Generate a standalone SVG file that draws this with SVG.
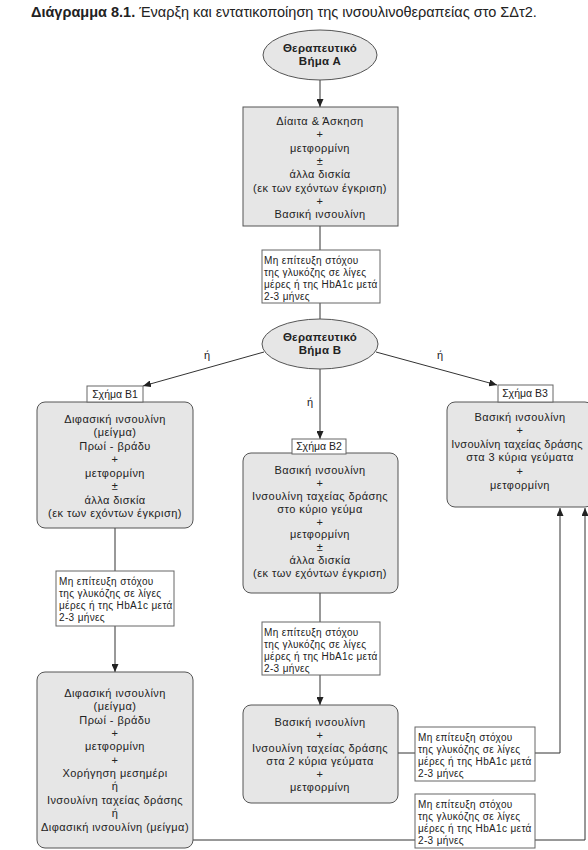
<svg xmlns="http://www.w3.org/2000/svg" width="588" height="850" viewBox="0 0 588 850">
<defs>
<marker id="ah" markerWidth="8" markerHeight="7" refX="8" refY="3.5" orient="auto" markerUnits="userSpaceOnUse">
<path d="M0,0 L8,3.5 L0,7 z" fill="#222"/>
</marker>
</defs>
<style>
text{font-family:"Liberation Sans",Arial,sans-serif;fill:#222}
.t{font-size:11px;letter-spacing:0.45px;text-anchor:middle}
.c{font-size:10px;letter-spacing:0.35px}
.e{font-size:11.5px;font-weight:bold;text-anchor:middle;letter-spacing:0.3px}
.l{font-size:10.5px;text-anchor:middle}
.g{fill:#e6e6e6;stroke:#555;stroke-width:1}
.w{fill:#fff;stroke:#666;stroke-width:1}
.ln{stroke:#333;stroke-width:1;fill:none}
.a{marker-end:url(#ah)}
</style>
<rect width="588" height="850" fill="#fff"/>
<text x="31" y="17" style="font-size:14.5px"><tspan font-weight="bold">Διάγραμμα 8.1.</tspan> Έναρξη και εντατικοποίηση της ινσουλινοθεραπείας στο ΣΔτ2.</text>

<g id="connectors">
<line class="ln a" x1="320" y1="80" x2="320" y2="107"/>
<line class="ln" x1="320" y1="226" x2="320" y2="250"/>
<line class="ln" x1="320" y1="303" x2="320" y2="319"/>
<line class="ln a" x1="264" y1="352" x2="143" y2="386"/>
<line class="ln a" x1="376" y1="352" x2="497" y2="385"/>
<line class="ln a" x1="320" y1="369" x2="320" y2="439"/>
<line class="ln" x1="115" y1="528" x2="115" y2="571"/>
<line class="ln a" x1="115" y1="626" x2="115" y2="672"/>
<line class="ln" x1="320" y1="593" x2="320" y2="622"/>
<line class="ln a" x1="320" y1="675" x2="320" y2="705"/>
<polyline class="ln a" points="398,753 560,753 560,508"/>
<polyline class="ln a" points="193,840 585,840 585,508"/>
<text x="207" y="359" class="l" style="font-size:11px">ή</text>
<text x="440" y="359" class="l" style="font-size:11px">ή</text>
<text x="310" y="406" class="l" style="font-size:11px">ή</text>
</g>

<g id="stepA">
<ellipse class="g" cx="320" cy="55" rx="57" ry="25"/>
<text class="e" x="320" y="52">Θεραπευτικό</text>
<text class="e" x="320" y="65">Βήμα Α</text>
</g>

<g id="boxA">
<rect class="g" x="243" y="107" width="155" height="119"/>
<text class="t" x="320" y="125">Δίαιτα &amp; Άσκηση</text>
<text class="t" x="320" y="138">+</text>
<text class="t" x="320" y="152">μετφορμίνη</text>
<text class="t" x="320" y="165">±</text>
<text class="t" x="320" y="178">άλλα δισκία</text>
<text class="t" x="320" y="192">(εκ των εχόντων έγκριση)</text>
<text class="t" x="320" y="205">+</text>
<text class="t" x="320" y="218">Βασική ινσουλίνη</text>
</g>

<g id="cond1">
<rect class="w" x="262" y="250" width="118" height="53"/>
<text class="c" x="264" y="264">Μη επίτευξη στόχου</text>
<text class="c" x="264" y="276">της γλυκόζης σε λίγες</text>
<text class="c" x="264" y="288">μέρες ή της HbA1c μετά</text>
<text class="c" x="264" y="300">2-3 μήνες</text>
</g>

<g id="stepB">
<ellipse class="g" cx="320" cy="344" rx="58" ry="25"/>
<text class="e" x="320" y="341">Θεραπευτικό</text>
<text class="e" x="320" y="354">Βήμα Β</text>
</g>

<g id="B1">
<rect class="g" x="37" y="402" width="156" height="126" rx="8"/>
<text class="t" x="115" y="423">Διφασική ινσουλίνη</text>
<text class="t" x="115" y="436">(μείγμα)</text>
<text class="t" x="115" y="450">Πρωί - βράδυ</text>
<text class="t" x="115" y="463">+</text>
<text class="t" x="115" y="477">μετφορμίνη</text>
<text class="t" x="115" y="490">±</text>
<text class="t" x="115" y="504">άλλα δισκία</text>
<text class="t" x="115" y="517">(εκ των εχόντων έγκριση)</text>
<rect class="w" x="87" y="386" width="56" height="16"/>
<text class="l" x="115" y="398">Σχήμα Β1</text>
</g>

<g id="B2">
<rect class="g" x="243" y="453" width="155" height="140" rx="8"/>
<text class="t" x="320" y="474">Βασική ινσουλίνη</text>
<text class="t" x="320" y="487">+</text>
<text class="t" x="320" y="500">Ινσουλίνη ταχείας δράσης</text>
<text class="t" x="320" y="513">στο κύριο γεύμα</text>
<text class="t" x="320" y="526">+</text>
<text class="t" x="320" y="538">μετφορμίνη</text>
<text class="t" x="320" y="551">±</text>
<text class="t" x="320" y="564">άλλα δισκία</text>
<text class="t" x="320" y="577">(εκ των εχόντων έγκριση)</text>
<rect class="w" x="292" y="439" width="54" height="15"/>
<text class="l" x="319" y="450">Σχήμα Β2</text>
</g>

<g id="B3">
<rect class="g" x="447" y="402" width="146" height="105" rx="8"/>
<text class="t" x="520" y="421">Βασική ινσουλίνη</text>
<text class="t" x="520" y="434">+</text>
<text class="t" x="517" y="448" style="letter-spacing:0.25px">Ινσουλίνη ταχείας δράσης</text>
<text class="t" x="520" y="461">στα 3 κύρια γεύματα</text>
<text class="t" x="520" y="475">+</text>
<text class="t" x="520" y="489">μετφορμίνη</text>
<rect class="w" x="498" y="385" width="55" height="17"/>
<text class="l" x="525" y="397">Σχήμα Β3</text>
</g>

<g id="condL">
<rect class="w" x="56" y="571" width="118" height="55"/>
<text class="c" x="59" y="585">Μη επίτευξη στόχου</text>
<text class="c" x="59" y="597">της γλυκόζης σε λίγες</text>
<text class="c" x="59" y="609">μέρες ή της HbA1c μετά</text>
<text class="c" x="59" y="621">2-3 μήνες</text>
</g>

<g id="cond2">
<rect class="w" x="262" y="622" width="118" height="53"/>
<text class="c" x="264" y="636">Μη επίτευξη στόχου</text>
<text class="c" x="264" y="648">της γλυκόζης σε λίγες</text>
<text class="c" x="264" y="660">μέρες ή της HbA1c μετά</text>
<text class="c" x="264" y="672">2-3 μήνες</text>
</g>

<g id="B2b">
<rect class="g" x="243" y="705" width="155" height="98" rx="8"/>
<text class="t" x="320" y="726">Βασική ινσουλίνη</text>
<text class="t" x="320" y="739">+</text>
<text class="t" x="320" y="752">Ινσουλίνη ταχείας δράσης</text>
<text class="t" x="320" y="765">στα 2 κύρια γεύματα</text>
<text class="t" x="320" y="778">+</text>
<text class="t" x="320" y="791">μετφορμίνη</text>
</g>

<g id="B1b">
<rect class="g" x="37" y="672" width="156" height="176" rx="8"/>
<text class="t" x="115" y="697">Διφασική ινσουλίνη</text>
<text class="t" x="115" y="710">(μείγμα)</text>
<text class="t" x="115" y="724">Πρωί - βράδυ</text>
<text class="t" x="115" y="737">+</text>
<text class="t" x="115" y="750">μετφορμίνη</text>
<text class="t" x="115" y="764">+</text>
<text class="t" x="115" y="777">Χορήγηση μεσημέρι</text>
<text class="t" x="115" y="790">ή</text>
<text class="t" x="115" y="804">Ινσουλίνη ταχείας δράσης</text>
<text class="t" x="115" y="817">ή</text>
<text class="t" x="115" y="831">Διφασική ινσουλίνη (μείγμα)</text>
</g>

<g id="condR1">
<rect class="w" x="415" y="727" width="120" height="54"/>
<text class="c" x="418" y="741">Μη επίτευξη στόχου</text>
<text class="c" x="418" y="753">της γλυκόζης σε λίγες</text>
<text class="c" x="418" y="765">μέρες ή της HbA1c μετά</text>
<text class="c" x="418" y="777">2-3 μήνες</text>
</g>

<g id="condR2">
<rect class="w" x="415" y="794" width="120" height="54"/>
<text class="c" x="418" y="808">Μη επίτευξη στόχου</text>
<text class="c" x="418" y="820">της γλυκόζης σε λίγες</text>
<text class="c" x="418" y="832">μέρες ή της HbA1c μετά</text>
<text class="c" x="418" y="844">2-3 μήνες</text>
</g>
</svg>
